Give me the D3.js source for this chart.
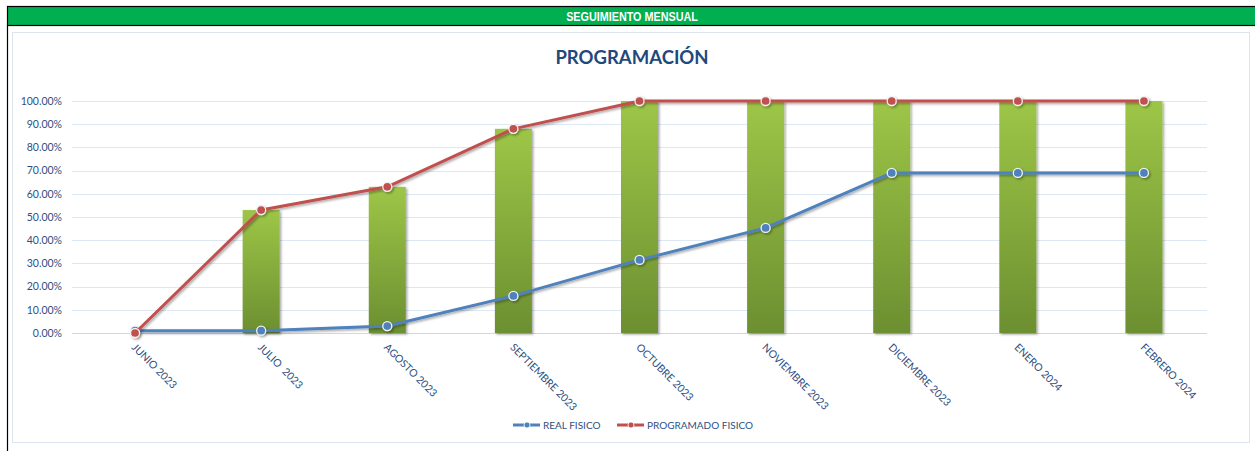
<!DOCTYPE html>
<html>
<head>
<meta charset="utf-8">
<script src="https://cdn.jsdelivr.net/npm/d3@7"></script>
<style>
  body { margin: 0; background: #fff; }
  svg { display: block; }
</style>
</head>
<body>
<svg id="chart" width="1255" height="451"></svg>
<script>
// chart data
const months = ['JUNIO 2023', 'JULIO  2023', 'AGOSTO 2023', 'SEPTIEMBRE 2023', 'OCTUBRE 2023',
  'NOVIEMBRE 2023', 'DICIEMBRE 2023', 'ENERO 2024', 'FEBRERO 2024'];
const barValues = [0, 0.53, 0.63, 0.88, 1, 1, 1, 1, 1];
const realFisico = [0.01, 0.01, 0.03, 0.16, 0.315, 0.453, 0.69, 0.69, 0.69];
const programadoFisico = [0, 0.53, 0.63, 0.88, 1, 1, 1, 1, 1];
const yTicks = [0, 0.1, 0.2, 0.3, 0.4, 0.5, 0.6, 0.7, 0.8, 0.9, 1];

const svg = d3.select('#chart');
const font = 'Lato, "Open Sans", sans-serif';
const textColor = '#2F4F80';

// header band
svg.append('rect').attr('x', 7.5).attr('y', 6.5).attr('width', 1252).attr('height', 19)
  .attr('fill', '#00B050').attr('stroke', '#000').attr('stroke-width', 1.2);
svg.append('text').attr('transform', 'translate(632,20.5) scale(0.9,1)').attr('text-anchor', 'middle')
  .attr('fill', '#fff').attr('font-family', '"Liberation Sans Narrow", "Arial Narrow", "Liberation Sans", sans-serif')
  .attr('font-weight', 'bold').attr('font-size', 12).text('SEGUIMIENTO MENSUAL');
svg.append('line').attr('x1', 7.5).attr('x2', 7.5).attr('y1', 25).attr('y2', 451)
  .attr('stroke', '#000').attr('stroke-width', 1.2);

// chart area border
svg.append('rect').attr('x', 12.5).attr('y', 32.5).attr('width', 1237).attr('height', 410)
  .attr('fill', '#fff').attr('stroke', '#DCE4F0');

svg.append('text').attr('x', 632).attr('y', 64).attr('text-anchor', 'middle')
  .attr('fill', '#1F497D').attr('font-family', font).attr('font-weight', 'bold')
  .attr('font-size', 18.5).text('PROGRAMACIÓN');

const x = d3.scaleBand().domain(months).range([72, 1207]);
const y = d3.scaleLinear().domain([0, 1]).range([333, 101]);
const cx = d => x(d) + x.bandwidth() / 2;

// gridlines
svg.append('g').selectAll('line').data(yTicks).join('line')
  .attr('x1', 72).attr('x2', 1207)
  .attr('y1', d => Math.round(y(d)) + 0.5).attr('y2', d => Math.round(y(d)) + 0.5)
  .attr('stroke', (d) => d === 0 ? '#D0D8E4' : '#DDE8F5');

// y axis labels
const yAxis = svg.append('g').attr('transform', 'translate(62,0)')
  .call(d3.axisLeft(y).tickValues(yTicks).tickFormat(d3.format('.2%')).tickSize(0).tickPadding(0));
yAxis.select('.domain').remove();
yAxis.selectAll('text').attr('fill', textColor).attr('font-family', font).attr('font-size', 10.5);

// bar gradient + shadow
const defs = svg.append('defs');
const grad = defs.append('linearGradient').attr('id', 'barGrad').attr('x1', 0).attr('x2', 0).attr('y1', 0).attr('y2', 1);
grad.append('stop').attr('offset', '0%').attr('stop-color', '#9DC647');
grad.append('stop').attr('offset', '100%').attr('stop-color', '#6C8F31');
const sh = defs.append('filter').attr('id', 'shadow').attr('x', '-20%').attr('y', '-20%').attr('width', '150%').attr('height', '150%');
sh.append('feDropShadow').attr('dx', 1.5).attr('dy', 1.5).attr('stdDeviation', 1.2).attr('flood-color', '#000').attr('flood-opacity', 0.35);

const barW = 37;
svg.append('g').selectAll('rect').data(months.filter((m, i) => barValues[i] > 0)).join('rect')
  .attr('x', d => cx(d) - barW / 2)
  .attr('y', d => y(barValues[months.indexOf(d)]))
  .attr('width', barW)
  .attr('height', d => y(0) - y(barValues[months.indexOf(d)]))
  .attr('fill', 'url(#barGrad)')
  .attr('filter', 'url(#shadow)');

// x axis labels
svg.append('g').selectAll('text').data(months).join('text')
  .attr('transform', d => `translate(${cx(d) - 4},${348}) rotate(45)`)
  .attr('fill', textColor).attr('font-family', font).attr('font-size', 10.5)
  .style('white-space', 'pre')
  .text(d => d);

// lines
function drawSeries(values, color) {
  const line = d3.line().x((d, i) => cx(months[i])).y(d => y(d));
  const g = svg.append('g').attr('filter', 'url(#shadow)');
  g.append('path').datum(values).attr('d', line)
    .attr('fill', 'none').attr('stroke', color).attr('stroke-width', 3).attr('stroke-linejoin', 'round');
  g.selectAll('circle').data(values).join('circle')
    .attr('cx', (d, i) => cx(months[i])).attr('cy', d => y(d)).attr('r', 4.5)
    .attr('fill', color).attr('stroke', '#F2F2F2').attr('stroke-width', 1.3);
}
drawSeries(realFisico, '#4F81BD');
drawSeries(programadoFisico, '#C0504D');

// legend
const legend = [
  {name: 'REAL FISICO', color: '#4F81BD', x: 513},
  {name: 'PROGRAMADO FISICO', color: '#C0504D', x: 617}
];
const lg = svg.append('g').selectAll('g').data(legend).join('g')
  .attr('transform', d => `translate(${d.x},425)`);
lg.append('line').attr('x1', 0).attr('x2', 27).attr('stroke', d => d.color).attr('stroke-width', 3);
lg.append('circle').attr('cx', 14).attr('r', 3).attr('fill', d => d.color).attr('stroke', '#fff').attr('stroke-width', 0.8);
lg.append('text').attr('x', 30).attr('y', 3.5).attr('fill', textColor)
  .attr('font-family', font).attr('font-size', 10).text(d => d.name);
</script>
</body>
</html>
